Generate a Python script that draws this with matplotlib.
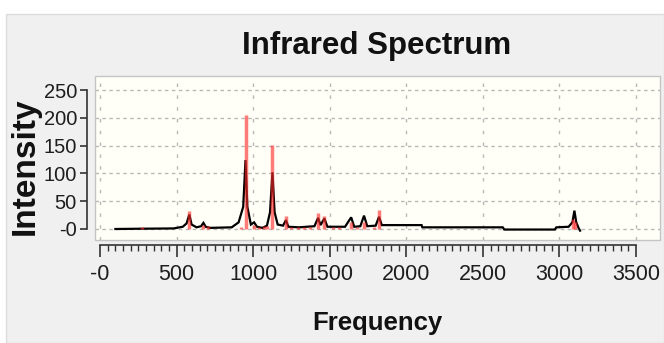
import matplotlib
matplotlib.use("Agg")
import matplotlib.pyplot as plt
from matplotlib.patches import Rectangle
from matplotlib.ticker import FixedLocator, FixedFormatter

# ---------------- data ----------------
curve_freq = [100, 270, 480, 540, 565, 583, 598, 630, 660, 675, 690, 720, 860, 905,
              935, 950, 962, 985, 1006, 1025, 1060, 1090, 1110, 1126, 1140, 1160,
              1195, 1214, 1230, 1300, 1400, 1424, 1440, 1465, 1485, 1600, 1640, 1660,
              1700, 1724, 1745, 1800, 1822, 1840, 2100, 2105, 2630, 2640, 2970, 2980,
              3060, 3085, 3098, 3110, 3125, 3135]
curve_int = [0, 0.5, 1, 4, 10, 26, 8, 3, 5, 11, 4, 2, 3, 12,
             40, 124, 40, 8, 12, 4, 2, 6, 30, 102, 30, 8,
             6, 16, 4, 3, 5, 20, 7, 19, 4, 4, 21, 4,
             5, 24, 5, 6, 22, 7, 7, 3, 3, -1, -1, 3,
             4, 12, 33, 12, 2, -3]

stick_freq = [276, 583, 675, 705, 920, 950, 1006, 1040, 1070, 1090, 1126, 1214,
              1250, 1290, 1330, 1370, 1424, 1465, 1520, 1560, 1640, 1680, 1724,
              1790, 1822, 3090, 3102]
stick_int = [4, 33, 8, 6, 4, 205, 8, 4, 5, 6, 151, 24,
             3, 3, 4, 3, 29, 24, 3, 3, 13, 3, 13,
             4, 35, 18, 12]

x_ticks = [0, 500, 1000, 1500, 2000, 2500, 3000, 3500]
x_tick_labels = ["-0", "500", "1000", "1500", "2000", "2500", "3000", "3500"]
x_minor_step = 50
y_ticks = [0, 50, 100, 150, 200, 250]
y_tick_labels = ["-0", "50", "100", "150", "200", "250"]

title_text = "Infrared Spectrum"
x_label = "Frequency"
y_label = "Intensity"

# ---------------- layout ----------------
W, H = 664, 343
def fx(px):
    return px / W
def fy(py):
    return 1 - py / H

FONT = ["Liberation Sans", "DejaVu Sans"]

fig = plt.figure(figsize=(W / 100, H / 100), dpi=100, facecolor="white")
fig.patches.append(Rectangle((fx(6), 0), 1 - fx(6), fy(14), transform=fig.transFigure,
                             facecolor="#f0f0f0", edgecolor="#dcdcdc", lw=1, zorder=-10))

ax = fig.add_axes([fx(95), fy(240), fx(660) - fx(95), fy(76) - fy(240)])
ax.set_zorder(2)
ax.set_facecolor("#fffff7")
ax.set_xlim(-33, 3657)
ax.set_ylim(-19.8, 275.2)

# spectrum
ax.plot(curve_freq, curve_int, color="black", lw=1.6, zorder=3, solid_joinstyle="miter")
ax.vlines(stick_freq, 0, stick_int, colors="#ff2a2a", alpha=0.62, lw=2.5, zorder=4)

# grid
ax.xaxis.grid(True, ls=(0, (2.5, 6)), color="#b8b8b8", lw=1)
ax.yaxis.grid(True, ls=(0, (2.5, 2.5)), color="#b8b8b8", lw=1)
ax.set_axisbelow(True)

# frame box
for s in ["top", "right"]:
    ax.spines[s].set_visible(False)
ax.add_patch(Rectangle((0, 0), 1, 1, transform=ax.transAxes, fill=False,
                       edgecolor="#c4c4c4", lw=1, zorder=5, clip_on=False))

# axes spines detached
ax.spines["left"].set_position(("outward", 5.8))
ax.spines["bottom"].set_position(("outward", 3.6))
ax.spines["left"].set_bounds(y_ticks[0], y_ticks[-1])
ax.spines["bottom"].set_bounds(x_ticks[0], x_ticks[-1])
for s in ["left", "bottom"]:
    ax.spines[s].set_color("#333333")
    ax.spines[s].set_linewidth(1.2)

minor_pos = [v for v in range(x_ticks[0], x_ticks[-1] + 1, x_minor_step) if v not in x_ticks]
ax.xaxis.set_major_locator(FixedLocator(x_ticks))
ax.xaxis.set_major_formatter(FixedFormatter(x_tick_labels))
ax.xaxis.set_minor_locator(FixedLocator(minor_pos))
ax.yaxis.set_major_locator(FixedLocator(y_ticks))
ax.yaxis.set_major_formatter(FixedFormatter(y_tick_labels))

ax.tick_params(axis="x", which="major", direction="out", length=8.6, width=1.2,
               color="#333333", pad=5, labelsize=15.5, labelcolor="#1e1e1e")
ax.tick_params(axis="x", which="minor", direction="out", length=4.3, width=1.0,
               color="#333333")
ax.tick_params(axis="y", which="major", direction="out", length=5, width=1.2,
               color="#333333", pad=2.2, labelsize=14.5, labelcolor="#1e1e1e")
for lab in ax.get_xticklabels() + ax.get_yticklabels():
    lab.set_family(FONT)

# texts
fig.text(fx(377), fy(46), title_text, ha="center", va="center", fontsize=22.5,
         fontweight="bold", family=FONT, color="#111111")
fig.text(fx(377), fy(323), x_label, ha="center", va="center", fontsize=18.5,
         fontweight="bold", family=FONT, color="#111111")
fig.text(fx(25), fy(166), y_label, ha="center", va="center", fontsize=24,
         fontweight="bold", family=FONT, rotation=90, color="#111111")

fig.savefig("out.png", dpi=100, facecolor=fig.get_facecolor())
